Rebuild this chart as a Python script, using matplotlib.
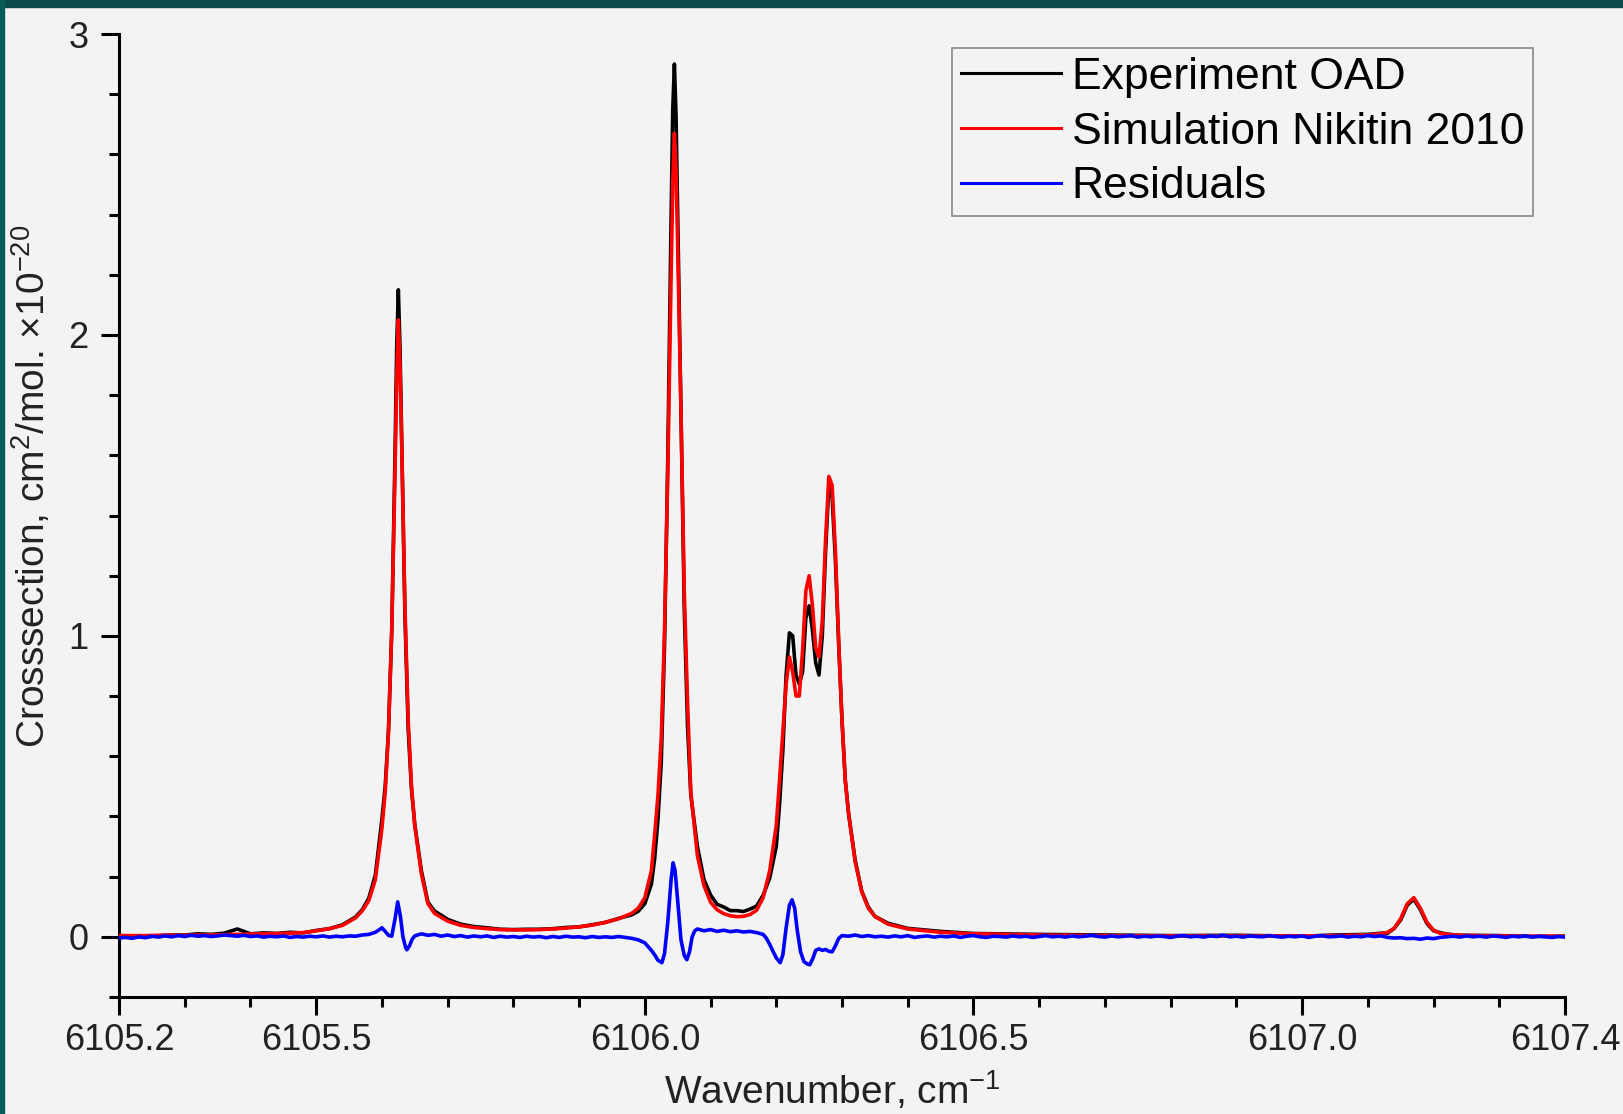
import matplotlib

matplotlib.use("Agg")
import matplotlib.pyplot as plt
from matplotlib.patches import Rectangle
from matplotlib.ticker import FixedLocator, FormatStrFormatter, MultipleLocator

plt.rcParams["font.family"] = ["Liberation Sans", "DejaVu Sans"]
plt.rcParams["mathtext.fontset"] = "custom"
plt.rcParams["mathtext.rm"] = "Liberation Sans"
plt.rcParams["mathtext.it"] = "Liberation Sans"
plt.rcParams["mathtext.default"] = "regular"

# --- data (wavenumber in cm-1, cross section in 1e-20 cm2/mol.) ---
SPEC_X = [
    6105.20, 6105.22, 6105.24, 6105.26, 6105.28, 6105.30, 6105.32, 6105.34, 6105.36, 6105.38,
    6105.40, 6105.42, 6105.44, 6105.46, 6105.48, 6105.50, 6105.52, 6105.54, 6105.56, 6105.57,
    6105.58, 6105.59, 6105.60, 6105.605, 6105.61, 6105.615, 6105.62, 6105.6225, 6105.625, 6105.6275,
    6105.63, 6105.635, 6105.64, 6105.645, 6105.65, 6105.66, 6105.67, 6105.68, 6105.70, 6105.72,
    6105.74, 6105.76, 6105.78, 6105.80, 6105.82, 6105.84, 6105.86, 6105.88, 6105.90, 6105.92,
    6105.94, 6105.96, 6105.98, 6105.99, 6106.00, 6106.01, 6106.015, 6106.02, 6106.025, 6106.03,
    6106.035, 6106.04, 6106.0425, 6106.045, 6106.0475, 6106.05, 6106.055, 6106.06, 6106.065, 6106.07,
    6106.08, 6106.09, 6106.10, 6106.11, 6106.12, 6106.13, 6106.14, 6106.15, 6106.16, 6106.17,
    6106.18, 6106.19, 6106.20, 6106.205, 6106.21, 6106.215, 6106.22, 6106.225, 6106.23, 6106.235,
    6106.24, 6106.245, 6106.25, 6106.255, 6106.26, 6106.265, 6106.27, 6106.275, 6106.28, 6106.285,
    6106.29, 6106.295, 6106.30, 6106.305, 6106.31, 6106.32, 6106.33, 6106.34, 6106.35, 6106.37,
    6106.40, 6106.45, 6106.50, 6106.60, 6106.70, 6106.80, 6106.90, 6107.00, 6107.05, 6107.10,
    6107.12, 6107.13, 6107.14, 6107.15, 6107.16, 6107.17, 6107.18, 6107.19, 6107.20, 6107.21,
    6107.22, 6107.24, 6107.30, 6107.35, 6107.40,
]

EXPERIMENT = [
    0.000, 0.002, -0.001, 0.004, 0.006, 0.006, 0.010, 0.008, 0.012, 0.026,
    0.010, 0.013, 0.011, 0.015, 0.013, 0.021, 0.027, 0.040, 0.066, 0.090,
    0.128, 0.205, 0.39, 0.50, 0.685, 1.02, 1.61, 1.96, 2.15, 1.96,
    1.66, 1.07, 0.69, 0.49, 0.373, 0.22, 0.115, 0.086, 0.058, 0.042,
    0.034, 0.030, 0.025, 0.024, 0.025, 0.025, 0.027, 0.031, 0.033, 0.040,
    0.048, 0.061, 0.073, 0.085, 0.11, 0.175, 0.26, 0.39, 0.58, 0.97,
    1.60, 2.39, 2.75, 2.90, 2.73, 2.40, 1.74, 1.09, 0.70, 0.47,
    0.30, 0.19, 0.139, 0.108, 0.099, 0.087, 0.087, 0.084, 0.092, 0.102,
    0.138, 0.195, 0.30, 0.44, 0.62, 0.87, 1.01, 1.00, 0.87, 0.84,
    0.88, 1.06, 1.10, 1.02, 0.91, 0.87, 1.00, 1.28, 1.50, 1.46,
    1.25, 0.97, 0.72, 0.52, 0.41, 0.255, 0.152, 0.099, 0.068, 0.045,
    0.028, 0.018, 0.011, 0.008, 0.006, 0.004, 0.005, 0.002, 0.006, 0.008,
    0.012, 0.012, 0.028, 0.056, 0.105, 0.125, 0.090, 0.044, 0.020, 0.014,
    0.009, 0.005, 0.004, 0.001, 0.002,
]

SIMULATION = [
    0.004, 0.004, 0.004, 0.005, 0.005, 0.005, 0.006, 0.006, 0.007, 0.008,
    0.009, 0.010, 0.011, 0.012, 0.014, 0.020, 0.027, 0.038, 0.063, 0.086,
    0.12, 0.19, 0.36, 0.48, 0.68, 1.02, 1.55, 1.85, 2.05, 1.90,
    1.65, 1.10, 0.72, 0.50, 0.37, 0.21, 0.11, 0.078, 0.052, 0.038,
    0.031, 0.027, 0.024, 0.023, 0.023, 0.024, 0.026, 0.029, 0.033, 0.039,
    0.048, 0.060, 0.078, 0.095, 0.13, 0.22, 0.34, 0.47, 0.66, 1.02,
    1.55, 2.20, 2.50, 2.67, 2.55, 2.30, 1.75, 1.15, 0.78, 0.48,
    0.27, 0.17, 0.115, 0.09, 0.077, 0.07, 0.067, 0.068, 0.074, 0.088,
    0.13, 0.22, 0.37, 0.52, 0.68, 0.84, 0.93, 0.88, 0.80, 0.80,
    0.95, 1.15, 1.20, 1.10, 0.96, 0.93, 1.05, 1.32, 1.53, 1.50,
    1.28, 0.98, 0.72, 0.52, 0.41, 0.25, 0.15, 0.095, 0.068, 0.042,
    0.026, 0.015, 0.010, 0.006, 0.004, 0.003, 0.003, 0.003, 0.004, 0.006,
    0.010, 0.015, 0.028, 0.060, 0.110, 0.130, 0.095, 0.048, 0.022, 0.012,
    0.008, 0.005, 0.003, 0.002, 0.002,
]

RESID_X = [
    6105.20, 6105.21, 6105.22, 6105.23, 6105.24, 6105.25, 6105.26, 6105.27, 6105.28, 6105.29,
    6105.30, 6105.31, 6105.32, 6105.33, 6105.34, 6105.35, 6105.36, 6105.37, 6105.38, 6105.39,
    6105.40, 6105.41, 6105.42, 6105.43, 6105.44, 6105.45, 6105.46, 6105.47, 6105.48, 6105.49,
    6105.50, 6105.51, 6105.52, 6105.53, 6105.54, 6105.55, 6105.56, 6105.57, 6105.58, 6105.59,
    6105.595, 6105.60, 6105.605, 6105.61, 6105.615, 6105.62, 6105.624, 6105.628, 6105.632, 6105.636,
    6105.638, 6105.642, 6105.646, 6105.65,
    6105.66, 6105.67, 6105.68, 6105.69,
    6105.70, 6105.71, 6105.72, 6105.73, 6105.74, 6105.75, 6105.76, 6105.77, 6105.78, 6105.79,
    6105.80, 6105.81, 6105.82, 6105.83, 6105.84, 6105.85, 6105.86, 6105.87, 6105.88, 6105.89,
    6105.90, 6105.91, 6105.92, 6105.93, 6105.94, 6105.95, 6105.96, 6105.97, 6105.98, 6105.99,
    6106.00, 6106.01, 6106.015, 6106.02, 6106.026, 6106.03, 6106.035, 6106.04, 6106.043, 6106.046,
    6106.05, 6106.055, 6106.06, 6106.064, 6106.068, 6106.072, 6106.076, 6106.08,
    6106.09, 6106.10, 6106.11, 6106.12, 6106.13, 6106.14, 6106.15, 6106.16, 6106.17, 6106.18,
    6106.185, 6106.19, 6106.195, 6106.20, 6106.206, 6106.21, 6106.215, 6106.22, 6106.224, 6106.228,
    6106.232, 6106.237, 6106.242, 6106.247, 6106.251, 6106.256, 6106.26, 6106.265, 6106.27, 6106.275,
    6106.28, 6106.285, 6106.29, 6106.295, 6106.30,
    6106.31, 6106.32, 6106.33, 6106.34, 6106.35,
    6106.36, 6106.37, 6106.38, 6106.39, 6106.40, 6106.41, 6106.42, 6106.43, 6106.44, 6106.45,
    6106.46, 6106.47, 6106.48, 6106.49, 6106.50, 6106.51, 6106.52, 6106.53, 6106.54, 6106.55,
    6106.56, 6106.57, 6106.58, 6106.59, 6106.60, 6106.61, 6106.62, 6106.63, 6106.64, 6106.65,
    6106.66, 6106.67, 6106.68, 6106.69, 6106.70, 6106.71, 6106.72, 6106.73, 6106.74, 6106.75,
    6106.76, 6106.77, 6106.78, 6106.79, 6106.80, 6106.81, 6106.82, 6106.83, 6106.84, 6106.85,
    6106.86, 6106.87, 6106.88, 6106.89, 6106.90, 6106.91, 6106.92, 6106.93, 6106.94, 6106.95,
    6106.96, 6106.97, 6106.98, 6106.99, 6107.00, 6107.01, 6107.02, 6107.03, 6107.04, 6107.05,
    6107.06, 6107.07, 6107.08, 6107.09, 6107.10, 6107.11, 6107.12, 6107.13, 6107.14, 6107.15,
    6107.16, 6107.17, 6107.18, 6107.19, 6107.20, 6107.21, 6107.22, 6107.23, 6107.24, 6107.25,
    6107.26, 6107.27, 6107.28, 6107.29, 6107.30, 6107.31, 6107.32, 6107.33, 6107.34, 6107.35,
    6107.36, 6107.37, 6107.38, 6107.39, 6107.40,
]

RESIDUALS = [
    -0.004, -0.002, -0.005, 0.000, -0.003, 0.002, -0.001, 0.003, 0.000, 0.004,
    0.001, 0.005, 0.002, 0.004, 0.001, 0.003, 0.006, 0.004, 0.002, 0.005,
    0.001, 0.003, -0.001, 0.002, 0.000, 0.003, -0.002, 0.001, -0.001, 0.002,
    0.000, 0.003, -0.001, 0.002, 0.000, 0.003, 0.002, 0.006, 0.008, 0.015,
    0.022, 0.030, 0.018, 0.005, 0.002, 0.060, 0.116, 0.070, 0.000, -0.035,
    -0.043, -0.030, -0.008, 0.003,
    0.010, 0.005, 0.008, 0.002,
    0.006, 0.001, 0.004, -0.001, 0.003, 0.000, 0.003, -0.002, 0.002, -0.001,
    0.001, -0.002, 0.002, -0.001, 0.001, -0.003, 0.001, -0.002, 0.002, -0.001,
    0.000, -0.003, 0.001, -0.002, 0.000, -0.002, 0.001, -0.002, -0.005, -0.010,
    -0.020, -0.045, -0.060, -0.078, -0.086, -0.055, 0.050, 0.190, 0.246, 0.220,
    0.120, -0.010, -0.062, -0.076, -0.050, 0.000, 0.020, 0.026,
    0.020, 0.024, 0.018, 0.022, 0.017, 0.020, 0.016, 0.018, 0.014, 0.008,
    -0.005, -0.025, -0.048, -0.070, -0.086, -0.060, 0.030, 0.105, 0.123, 0.095,
    0.020, -0.050, -0.082, -0.090, -0.093, -0.070, -0.045, -0.040, -0.045, -0.042,
    -0.048, -0.050, -0.030, -0.005, 0.004,
    0.002, 0.006, 0.001, 0.004, 0.000,
    0.002, -0.001, 0.003, 0.000, 0.004, -0.002, 0.001, 0.003, -0.001, 0.002,
    0.000, 0.003, -0.002, 0.002, 0.004, 0.000, -0.002, 0.002, 0.001, -0.001,
    0.003, 0.000, 0.002, -0.002, 0.001, 0.004, 0.000, 0.002, -0.001, 0.003,
    0.000, 0.002, 0.005, 0.001, -0.001, 0.003, 0.000, 0.002, 0.004, -0.001,
    0.002, 0.000, 0.003, 0.001, -0.002, 0.002, 0.004, 0.000, 0.002, -0.001,
    0.003, 0.001, 0.005, 0.000, 0.002, -0.001, 0.003, 0.001, 0.000, 0.004,
    0.001, -0.001, 0.002, 0.000, 0.003, -0.002, 0.002, 0.004, 0.000, 0.001,
    0.003, -0.001, 0.002, 0.000, 0.004, 0.001, 0.003, -0.002, -0.004, -0.003,
    -0.006, -0.005, -0.008, -0.004, -0.006, -0.002, 0.000, 0.002, -0.001, 0.003,
    0.000, 0.002, -0.001, 0.003, 0.001, -0.002, 0.002, 0.000, 0.003, -0.001,
    0.002, 0.000, -0.002, 0.001, -0.001,
]

X_MAJOR = [6105.2, 6105.5, 6106.0, 6106.5, 6107.0, 6107.4]
Y_MAJOR = [0, 1, 2, 3]

BG = "#f3f3f3"
W, H = 1623, 1114
LW = 2.6

fig = plt.figure(figsize=(W / 100, H / 100), dpi=100, facecolor=BG)
# dark teal frame strips at top and left edge
fig.patches.append(Rectangle((0, 1 - 7 / H), 1, 7 / H, transform=fig.transFigure,
                             color="#0b4a4a", zorder=0))
fig.patches.append(Rectangle((0, 0), 4 / W, 1, transform=fig.transFigure,
                             color="#0a5a5a", zorder=0))

ax = fig.add_axes([119 / W, 1 - 997 / H, (1565 - 119) / W, (997 - 34) / H])
ax.set_facecolor(BG)

ax.plot(SPEC_X, EXPERIMENT, color="black", lw=LW, label="Experiment OAD", zorder=3)
ax.plot(SPEC_X, SIMULATION, color="#ff0000", lw=LW, label="Simulation Nikitin 2010", zorder=4)
ax.plot(RESID_X, RESIDUALS, color="#0000ff", lw=LW, label="Residuals", zorder=5)

ax.set_xlim(6105.2, 6107.4)
ax.set_ylim(-0.2, 3.0)

for side in ("top", "right"):
    ax.spines[side].set_visible(False)
for side in ("left", "bottom"):
    ax.spines[side].set_linewidth(2.2)
    ax.spines[side].set_color("black")

ax.xaxis.set_major_locator(FixedLocator(X_MAJOR))
ax.xaxis.set_minor_locator(MultipleLocator(0.1))
ax.xaxis.set_major_formatter(FormatStrFormatter("%.1f"))
ax.yaxis.set_major_locator(FixedLocator(Y_MAJOR))
ax.yaxis.set_minor_locator(MultipleLocator(0.2))

ax.tick_params(which="major", direction="out", length=13, width=2.2, colors="black",
               labelsize=26, labelcolor="#222222")
ax.tick_params(which="minor", direction="out", length=7, width=2.2, colors="black")
ax.tick_params(axis="x", which="major", pad=6)
ax.tick_params(axis="y", which="major", pad=9)

ax.set_xlabel("Wavenumber, cm$^{-1}$", fontsize=28, color="#222222")
ax.xaxis.set_label_coords(0.493, -0.075)
ax.set_ylabel("Crosssection, cm$^{2}$/mol. ×10$^{-20}$", fontsize=28, color="#222222")
ax.yaxis.set_label_coords(-0.046, 0.53)

leg = ax.legend(loc="upper right", bbox_to_anchor=(0.978, 0.9855), borderaxespad=0,
                fontsize=32, frameon=True, fancybox=False, framealpha=1,
                handlelength=2.25, handletextpad=0.25, labelspacing=0.31,
                borderpad=0.2)
leg.get_frame().set_facecolor(BG)
leg.get_frame().set_edgecolor("#8a8a8a")
leg.get_frame().set_linewidth(1.2)
for line in leg.get_lines():
    line.set_linewidth(2.2)

fig.savefig("out.png", dpi=100, facecolor=BG)
